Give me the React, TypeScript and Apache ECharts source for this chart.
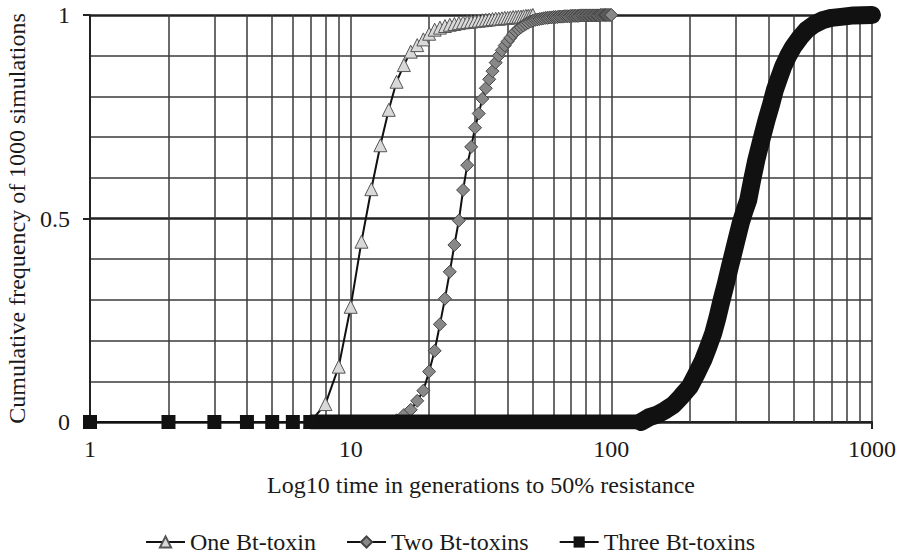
import React, { useEffect, useRef } from "react";
import * as echarts from "echarts";

// Generations (x) and cumulative frequency (y) per series
const oneX = [7, 8, 9, 10, 11, 12, 13, 14, 15, 16, 17, 18, 19, 20, 21, 22, 23, 24, 25, 26, 27, 28, 29, 30, 31, 32, 33, 34, 35, 36, 37, 38, 39, 40, 41, 42, 43, 44, 45, 46, 47, 48, 49, 50];
const oneY = [0, 0.044, 0.136, 0.283, 0.443, 0.572, 0.68, 0.767, 0.836, 0.877, 0.91, 0.926, 0.94, 0.954, 0.964, 0.969, 0.973, 0.976, 0.978, 0.98, 0.982, 0.983, 0.984, 0.985, 0.986, 0.987, 0.988, 0.989, 0.99, 0.991, 0.991, 0.992, 0.993, 0.993, 0.994, 0.995, 0.995, 0.996, 0.996, 0.997, 0.998, 0.998, 0.999, 1];

const twoX = [14, 15, 16, 17, 18, 19, 20, 21, 22, 23, 24, 25, 26, 27, 28, 29, 30, 31, 32, 33, 34, 35, 36, 37, 38, 39, 40, 41, 42, 43, 44, 45, 46, 47, 48, 49, 50, 51, 52, 53, 54, 55, 56, 57, 58, 59, 60, 61, 62, 63, 64, 65, 66, 67, 68, 69, 70, 71, 72, 73, 74, 75, 76, 77, 78, 79, 80, 81, 82, 83, 84, 85, 86, 87, 88, 89, 90, 91, 92, 93, 94, 95, 96, 97, 98, 99, 100];
const twoY = [0, 0.004, 0.017, 0.03, 0.052, 0.077, 0.124, 0.175, 0.24, 0.303, 0.369, 0.435, 0.495, 0.57, 0.631, 0.676, 0.723, 0.758, 0.794, 0.82, 0.842, 0.862, 0.883, 0.9, 0.913, 0.925, 0.935, 0.944, 0.953, 0.96, 0.965, 0.97, 0.974, 0.978, 0.981, 0.984, 0.986, 0.988, 0.989, 0.99, 0.991, 0.992, 0.993, 0.993, 0.994, 0.994, 0.995, 0.995, 0.995, 0.996, 0.996, 0.996, 0.997, 0.997, 0.997, 0.997, 0.998, 0.998, 0.998, 0.998, 0.998, 0.998, 0.999, 0.999, 0.999, 0.999, 0.999, 0.999, 0.999, 0.999, 0.999, 0.999, 0.999, 0.999, 0.999, 0.999, 0.999, 1, 1, 1, 1, 1, 1, 1, 1, 1, 1];

const threeX = [1, 2, 3, 4, 5, 6, 7, 8, 9, 10, 11, 12, 13, 14, 15, 16, 17, 18, 19, 20, 30, 40, 50, 60, 80, 100, 120, 130, 140, 150, 160, 173, 185, 200, 212, 225, 235, 246, 255, 265, 275, 285, 295, 302, 314, 325, 335, 347, 360, 377, 394, 410, 424, 440, 456, 477, 499, 530, 561, 600, 650, 700, 776, 850, 1000];
const threeY = [0, 0, 0, 0, 0, 0, 0, 0, 0, 0, 0, 0, 0, 0, 0, 0, 0, 0, 0, 0, 0, 0, 0, 0, 0, 0, 0, 0, 0.012, 0.018, 0.028, 0.042, 0.062, 0.087, 0.118, 0.152, 0.183, 0.218, 0.255, 0.3, 0.34, 0.382, 0.42, 0.447, 0.49, 0.521, 0.545, 0.595, 0.644, 0.695, 0.742, 0.78, 0.816, 0.845, 0.873, 0.9, 0.922, 0.945, 0.963, 0.977, 0.988, 0.993, 0.996, 0.999, 1];

const xMinorGrid = [2, 3, 4, 5, 6, 7, 8, 9, 20, 30, 40, 50, 60, 70, 80, 90, 200, 300, 400, 500, 600, 700, 800, 900];

const seriesNames = ["One Bt-toxin", "Two Bt-toxins", "Three Bt-toxins"];
const xTitle = "Log10 time in generations to 50% resistance";
const yTitle = "Cumulative frequency of 1000 simulations";

const zip = (xs: number[], ys: number[]) => xs.map((x, i) => [x, ys[i]]);

const FONT = "'Liberation Serif', 'Times New Roman', 'DejaVu Serif', serif";
const TXT = "#1a1a1a";
const GRID = "#3a3a3a";

export default function App() {
  const ref = useRef<HTMLDivElement>(null);
  useEffect(() => {
    const chart = echarts.init(ref.current!, null, { renderer: "svg" });
    const threeData = zip(threeX, threeY);
    chart.setOption({
      animation: false,
      backgroundColor: "#ffffff",
      textStyle: { fontFamily: FONT, color: TXT },
      grid: { left: 90, right: 28, top: 15, bottom: 136, containLabel: false, outerBoundsMode: "none" },
      legend: {
        data: seriesNames,
        top: 525,
        left: "center",
        itemWidth: 39,
        itemHeight: 14,
        itemGap: 30,
        lineStyle: { width: 2, color: "#111" },
        textStyle: { fontFamily: FONT, fontSize: 24, color: TXT },
      },
      xAxis: {
        type: "log",
        logBase: 10,
        min: 1,
        max: 1000,
        name: xTitle,
        nameLocation: "middle",
        nameGap: 51,
        nameTextStyle: { fontFamily: FONT, fontSize: 24, color: TXT },
        axisLine: { show: true, onZero: false, lineStyle: { color: "#222", width: 2 } },
        axisTick: { show: true, length: 7, lineStyle: { color: "#222", width: 2 } },
        axisLabel: { fontFamily: FONT, fontSize: 24, color: TXT, margin: 15, formatter: (v: number) => String(Math.round(v)) },
        splitLine: { show: true, lineStyle: { color: GRID, width: 1.5 } },
        minorTick: { show: false },
        minorSplitLine: { show: false },
      },
      yAxis: {
        type: "value",
        min: 0,
        max: 1,
        interval: 0.5,
        name: yTitle,
        nameLocation: "middle",
        nameGap: 46,
        nameRotate: 90,
        nameTextStyle: { fontFamily: FONT, fontSize: 24, color: TXT },
        axisLine: { show: true, lineStyle: { color: "#222", width: 2 } },
        axisTick: { show: true, length: 7, lineStyle: { color: "#222", width: 2 } },
        axisLabel: { fontFamily: FONT, fontSize: 24, color: TXT, margin: 20 },
        splitLine: { show: true, lineStyle: { color: "#222", width: 2.5 } },
        minorTick: { show: false, splitNumber: 5 },
        minorSplitLine: { show: true, lineStyle: { color: GRID, width: 1.5 } },
      },
      series: [
        {
          name: seriesNames[0],
          type: "line",
          data: zip(oneX, oneY),
          symbol: "triangle",
          symbolSize: 13,
          lineStyle: { color: "#111", width: 2 },
          itemStyle: { color: "#d9d9d9", borderColor: "#555", borderWidth: 1 },
          z: 3,
          markLine: {
            silent: true,
            z: 1,
            symbol: ["none", "none"],
            label: { show: false },
            lineStyle: { color: GRID, width: 1.5, type: "solid" },
            data: xMinorGrid.map((v) => ({ xAxis: v })),
          },
        },
        {
          name: seriesNames[1],
          type: "line",
          data: zip(twoX, twoY),
          symbol: "diamond",
          symbolSize: 13,
          lineStyle: { color: "#111", width: 2 },
          itemStyle: { color: "#888888", borderColor: "#444", borderWidth: 1 },
          z: 4,
        },
        {
          name: seriesNames[2],
          type: "line",
          data: threeData,
          symbol: "rect",
          symbolSize: (v: number[]) => (v[0] <= 20 ? 14 : 0),
          lineStyle: { color: "#111", width: 2 },
          itemStyle: { color: "#111", borderColor: "#111", borderWidth: 0 },
          z: 5,
        },
        {
          name: "band-flat",
          type: "line",
          data: threeData.filter((d) => d[0] >= 7 && d[0] <= 140),
          symbol: "none",
          lineStyle: { color: "#111", width: 15, join: "round", cap: "butt" },
          z: 5,
          silent: true,
        },
        {
          name: "band-rise",
          type: "line",
          data: threeData.filter((d) => d[0] >= 130),
          symbol: "none",
          lineStyle: { color: "#111", width: 18, join: "round", cap: "round" },
          z: 5,
          silent: true,
        },
      ],
    });
    return () => chart.dispose();
  }, []);
  return <div ref={ref} style={{ position: "fixed", left: 0, top: 0, width: 900, height: 558 }} />;
}
